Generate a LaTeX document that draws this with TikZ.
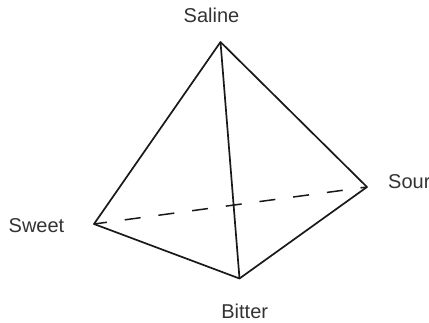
\documentclass[tikz,border=0pt]{standalone}
\usepackage{fontspec}
\setmainfont{Liberation Sans}
\tikzset{
  edgeline/.style={line width=1.7pt, black!90, line join=round},
  tastelabel/.style={font=\fontsize{20pt}{22pt}\selectfont, text=black!80, inner sep=0pt}
}
\begin{document}
\begin{tikzpicture}[x=1pt,y=-1pt]
  \useasboundingbox (0,0) rectangle (429,322);
  \coordinate (saline) at (220.5,42);
  \coordinate (sweet) at (94,224);
  \coordinate (bitter) at (239.5,278.5);
  \coordinate (sour) at (367,187);

  \draw[edgeline] (saline) -- (sweet) -- (bitter) -- (sour) -- cycle;
  \draw[edgeline] (saline) -- (bitter);
  \draw[edgeline, line width=1.5pt, dash pattern=on 16pt off 18pt, dash phase=3pt] (sweet) -- (sour);

  \node[tastelabel] (salinelabel) at (211.5,15) {Saline};
  \node[tastelabel] (sweetlabel) at (36.5,226) {Sweet};
  \node[tastelabel] (bitterlabel) at (244.7,311) {Bitter};
  \node[tastelabel, anchor=west] (sourlabel) at (388,182) {Sour};
\end{tikzpicture}
\end{document}
